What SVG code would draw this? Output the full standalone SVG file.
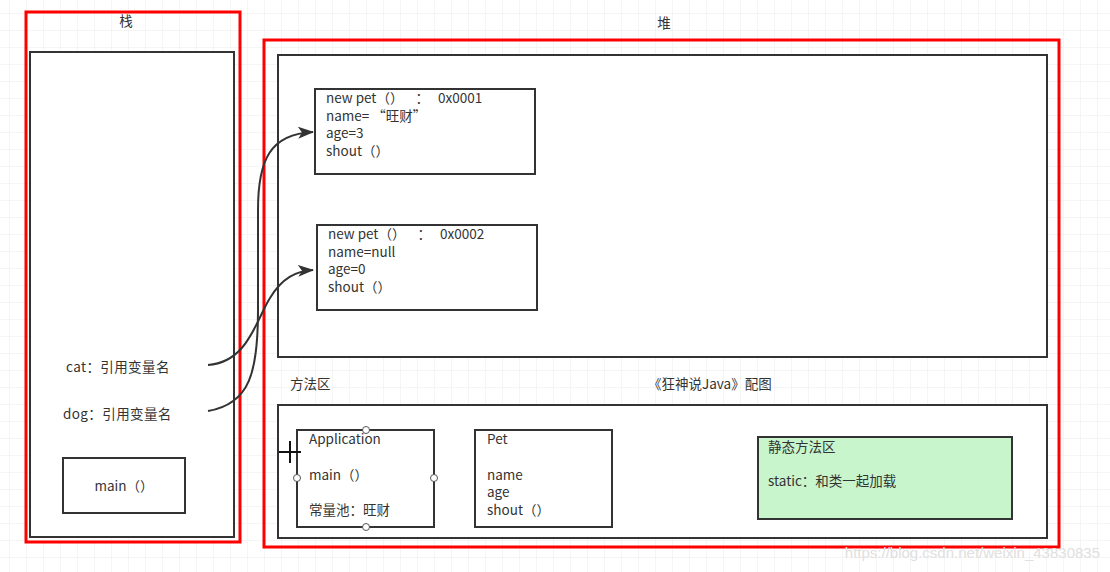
<svg xmlns="http://www.w3.org/2000/svg" width="1110" height="572" viewBox="0 0 1110 572">
<defs>
<pattern id="grid" x="9" y="13" width="17" height="17" patternUnits="userSpaceOnUse">
<path d="M0,0 H17 M0,0 V17" fill="none" stroke="#ebebeb" stroke-width="1"/>
</pattern>
<marker id="arr" viewBox="0 0 16 12" refX="15" refY="6" markerWidth="16" markerHeight="12" markerUnits="userSpaceOnUse" orient="auto">
<path d="M0,0 L16,6 L0,12 L4,6 Z" fill="#333"/>
</marker>
</defs>
<style>
text{font-family:"Noto Sans CJK SC","Noto Sans",sans-serif;font-size:13.5px;fill:#333}
.red{fill:none;stroke:#f00;stroke-width:3}
.box{fill:#fff;stroke:#333;stroke-width:2}
.conn{fill:none;stroke:#333;stroke-width:2}
.port{fill:#fff;stroke:#555;stroke-width:1}
</style>
<rect width="1110" height="572" fill="#fff"/>
<rect width="1110" height="572" fill="url(#grid)"/>

<g id="stack">
<rect x="30" y="52" width="204" height="485" fill="#fff" stroke="#333" stroke-width="2"/>
<rect class="red" x="26" y="12" width="214" height="530"/>
<text x="126" y="26" text-anchor="middle">栈</text>
<text x="66" y="372" letter-spacing="0.4">cat：引用变量名</text>
<text x="63" y="419" letter-spacing="0.4">dog：引用变量名</text>
</g>
<g id="main">
<rect class="box" x="63" y="458" width="122" height="55"/>
<text x="124" y="491" text-anchor="middle">main（）</text>
</g>

<g id="heap">
<rect x="278" y="55" width="769" height="302" fill="#fff" stroke="#333" stroke-width="2"/>
<rect class="red" x="264" y="40" width="795" height="507"/>
<text x="664" y="28" text-anchor="middle">堆</text>
<text x="290" y="389">方法区</text>
<text x="648" y="389">《狂神说Java》配图</text>
</g>
<g id="method-area">
<rect x="278" y="405" width="769" height="133" fill="#fff" stroke="#333" stroke-width="2"/>
</g>

<g id="pet1">
<rect class="box" x="315" y="89" width="220" height="85"/>
<text x="326" y="103" xml:space="preserve">new pet（）    ：   0x0001</text>
<text x="326" y="121">name= “旺财”</text>
<text x="326" y="138">age=3</text>
<text x="326" y="156">shout（）</text>
</g>
<g id="pet2">
<rect class="box" x="317" y="225" width="220" height="85"/>
<text x="328" y="239" xml:space="preserve">new pet（）    ：   0x0002</text>
<text x="328" y="257">name=null</text>
<text x="328" y="274">age=0</text>
<text x="328" y="292">shout（）</text>
</g>

<g id="application">
<rect class="box" x="297" y="430" width="137" height="97"/>
<text x="309" y="444">Application</text>
<text x="309" y="480">main（）</text>
<text x="309" y="515">常量池：旺财</text>
<circle class="port" cx="366" cy="430" r="3.5"/>
<circle class="port" cx="366" cy="527" r="3.5"/>
<circle class="port" cx="297" cy="478" r="3.5"/>
<circle class="port" cx="434" cy="478" r="3.5"/>
<path d="M279,452 H301 M290,441 V463" stroke="#111" stroke-width="2" fill="none"/>
</g>
<g id="pet-class">
<rect class="box" x="475" y="430" width="137" height="97"/>
<text x="487" y="444">Pet</text>
<text x="487" y="480">name</text>
<text x="487" y="497">age</text>
<text x="487" y="515">shout（）</text>
</g>
<g id="static-area">
<rect x="758" y="437" width="254" height="82" fill="#c9f5cc" stroke="#333" stroke-width="2"/>
<text x="768" y="452">静态方法区</text>
<text x="768" y="486">static：和类一起加载</text>
</g>

<g id="connectors">
<path class="conn" d="M208,365 C248,362 256,320 270,298 C282,278 296,271 313,270" marker-end="url(#arr)"/>
<path class="conn" d="M208,411 C250,404 258,372 258,310 L258,210 C258,160 270,134 313,132" marker-end="url(#arr)"/>
</g>

<text x="1100" y="558" text-anchor="end" style="font-family:'Liberation Sans',sans-serif;font-size:15px;fill:#e0e0e0">https://blog.csdn.net/weixin_43830835</text>
</svg>
